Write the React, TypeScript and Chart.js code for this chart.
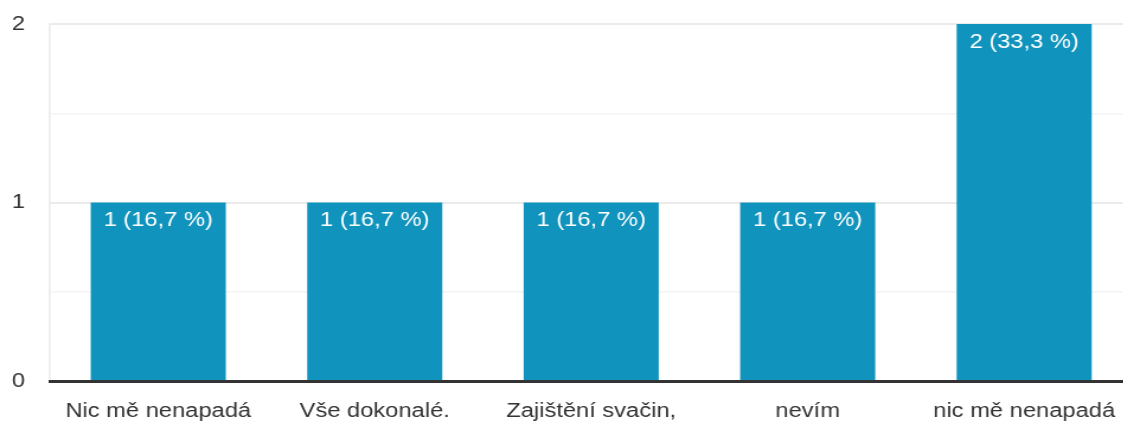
import React, { useEffect, useRef } from "react";
import { Chart, registerables } from "chart.js";

Chart.register(...registerables);

const categories = ["Nic mě nenapadá", "Vše dokonalé.", "Zajištění svačin,", "nevím", "nic mě nenapadá"];
const counts = [1, 1, 1, 1, 2];
const valueLabels = ["1 (16,7 %)", "1 (16,7 %)", "1 (16,7 %)", "1 (16,7 %)", "2 (33,3 %)"];
const yTicks = [0, 1, 2];

const FONT = "'Liberation Sans', Arial, sans-serif";
const STRETCH = 1.185;
const CANVAS_W = 959;

const barLabelPlugin = {
  id: "barLabels",
  afterDatasetsDraw(chart: any) {
    const ctx = chart.ctx;
    const meta = chart.getDatasetMeta(0);
    ctx.save();
    ctx.fillStyle = "#ffffff";
    ctx.font = `20px ${FONT}`;
    ctx.textAlign = "center";
    ctx.textBaseline = "top";
    meta.data.forEach((bar: any, i: number) => {
      ctx.fillText(valueLabels[i], bar.x, bar.y + 8);
    });
    ctx.restore();
  },
};

export default function App() {
  const ref = useRef<HTMLCanvasElement | null>(null);
  useEffect(() => {
    if (!ref.current) return;
    const chart = new Chart(ref.current, {
      type: "bar",
      data: {
        labels: categories,
        datasets: [
          {
            data: counts,
            backgroundColor: "#1093bc",
            barPercentage: 0.624,
            categoryPercentage: 1,
          },
        ],
      },
      options: {
        animation: false,
        responsive: false,
        maintainAspectRatio: false,
        devicePixelRatio: 1,
        layout: { padding: { top: 24, right: 0, left: 0, bottom: 0 } },
        plugins: { legend: { display: false }, tooltip: { enabled: false } },
        scales: {
          x: {
            grid: { display: false, drawTicks: false },
            border: { display: true, color: "#333333", width: 3, z: 2 },
            ticks: { color: "#333333", font: { size: 20, family: FONT }, padding: 18, maxRotation: 0, autoSkip: false },
            afterFit: (s: any) => { s.height = 42; },
          },
          y: {
            min: 0,
            max: 2,
            grid: {
              drawTicks: false,
              color: (c: any) => {
                const v = c.tick ? c.tick.value : 0;
                if (v === 0) return "rgba(0,0,0,0)";
                return Number.isInteger(v) ? "#ebebeb" : "#f4f4f4";
              },
              lineWidth: (c: any) => {
                const v = c.tick ? c.tick.value : 0;
                return Number.isInteger(v) ? 2 : 1.5;
              },
            },
            border: { display: true, color: "#ebebeb", width: 1.7 },
            ticks: {
              stepSize: 0.5,
              color: "#333333",
              font: { size: 20, family: FONT },
              padding: 21,
              callback: (v: any) => (yTicks.includes(Number(v)) ? String(v) : ""),
            },
            afterFit: (s: any) => {
              s.width = 42.2;
              s.paddingTop = 0;
              s.paddingBottom = 0;
            },
          },
        },
      },
      plugins: [barLabelPlugin],
    });
    return () => chart.destroy();
  }, []);
  return (
    <div style={{ position: "absolute", left: 0, top: 0, width: 1123, height: 423, overflow: "hidden", background: "#fff" }}>
      <canvas
        ref={ref}
        width={CANVAS_W}
        height={423}
        style={{ display: "block", width: CANVAS_W, height: 423, transform: `scaleX(${STRETCH})`, transformOrigin: "0 0" }}
      />
    </div>
  );
}
